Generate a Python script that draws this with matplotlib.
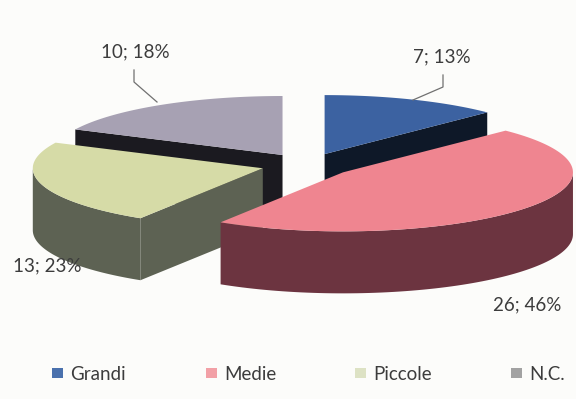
import numpy as np
import matplotlib.pyplot as plt
from matplotlib.patches import Polygon, Rectangle

plt.rcParams['font.family'] = ['Lato', 'DejaVu Sans']

names = ['Grandi', 'Medie', 'Piccole', 'N.C.']
values = [7, 26, 13, 10]
top_colors = ['#3c62a1', '#ef8590', '#d6dba7', '#a7a1b3']
side_colors = ['#0e1828', '#6c3440', '#5d6253', '#1b1a20']
legend_colors = ['#4a71ad', '#f2a0a6', '#dde2c4', '#a2a2a2']

# pie geometry (pixels)
cx, cy = 307, 165
a, b = 230, 59      # ellipse radii of the tilted top face
h = 62              # thickness
explode = 46


def rim(c, t):
    return c[0] + a * np.sin(t), c[1] - b * np.cos(t)


total = sum(values)
bounds = np.concatenate([[0], np.cumsum(values)]) / total * 2 * np.pi

fig = plt.figure(figsize=(5.76, 3.99), dpi=100)
fig.patch.set_facecolor('#fcfcfa')
ax = fig.add_axes([0, 0, 1, 1])
ax.set_xlim(0, 576)
ax.set_ylim(399, 0)
ax.axis('off')

# back slices first so front ones cover them
order = [3, 0, 2, 1]
for i in order:
    t1, t2 = bounds[i], bounds[i + 1]
    mid = (t1 + t2) / 2
    c = (cx + explode * np.sin(mid), cy - explode * b / a * np.cos(mid))

    # radial cut faces
    for t, sgn in ((t1, -1), (t2, 1)):
        normal = t + sgn * np.pi / 2
        if np.cos(normal) < -1e-6:
            px, py = rim(c, t)
            quad = [(c[0], c[1]), (px, py), (px, py + h), (c[0], c[1] + h)]
            ax.add_patch(Polygon(quad, closed=True, fc=side_colors[i], ec='none'))

    # outer wall, front half only
    lo, hi = max(t1, np.pi / 2), min(t2, 3 * np.pi / 2)
    if lo < hi:
        tt = np.linspace(lo, hi, 80)
        xs, ys = rim(c, tt)
        pts = list(zip(xs, ys)) + list(zip(xs[::-1], ys[::-1] + h))
        ax.add_patch(Polygon(pts, closed=True, fc=side_colors[i], ec='none'))

    # top face
    tt = np.linspace(t1, t2, 120)
    xs, ys = rim(c, tt)
    pts = [c] + list(zip(xs, ys))
    ax.add_patch(Polygon(pts, closed=True, fc=top_colors[i], ec='none'))

# data labels
label_pos = [(442, 57), (527, 305), (47, 266), (135, 52)]
for v, (x, y) in zip(values, label_pos):
    pct = int(v / total * 100 + 0.5)
    ax.text(x, y, f'{v}; {pct}%', ha='center', va='center',
            fontsize=13.5, color='#3c3c3c')

# leader lines
ax.plot([443, 443, 413], [75, 87, 100], color='#707070', lw=0.9)
ax.plot([134, 134, 157], [70, 82, 102], color='#707070', lw=0.9)

# legend
leg_x = [52, 206, 355, 511]
for name, col, x in zip(names, legend_colors, leg_x):
    ax.add_patch(Rectangle((x, 368), 11, 10, fc=col, ec='none'))
    ax.text(x + 18, 374, name, ha='left', va='center',
            fontsize=13.5, color='#3c3c3c')

fig.savefig('out.png', dpi=100, facecolor=fig.get_facecolor())
